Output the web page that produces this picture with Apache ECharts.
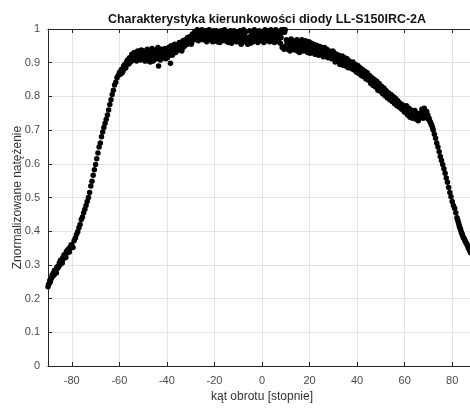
<!DOCTYPE html>
<html>
<head>
<meta charset="utf-8">
<title>Charakterystyka kierunkowości diody LL-S150IRC-2A</title>
<script src="https://cdn.jsdelivr.net/npm/echarts@6/dist/echarts.min.js"></script>
<style>
  html, body { margin: 0; padding: 0; background: #fff; }
  #chart { width: 470px; height: 408px; }
</style>
</head>
<body>
<div id="chart"></div>
<script>
// Rotation angles [deg], first pass
const angles = [
  -90, -89.5, -89, -88.5, -88, -87.5, -87, -86.5, -86, -85.5, -85, -84.5, -84, -83.5, -83, -82.5, -82, -81.5, -81, -80.5,
  -80, -79.5, -79, -78.5, -78, -77.5, -77, -76.5, -76, -75.5, -75, -74.5, -74, -73.5, -73, -72.5, -72, -71.5, -71, -70.5,
  -70, -69.5, -69, -68.5, -68, -67.5, -67, -66.5, -66, -65.5, -65, -64.5, -64, -63.5, -63, -62.5, -62, -61.5, -61, -60.5,
  -60, -59.5, -59, -58.5, -58, -57.5, -57, -56.5, -56, -55.5, -55, -54.5, -54, -53.5, -53, -52.5, -52, -51.5, -51, -50.5,
  -50, -49.5, -49, -48.5, -48, -47.5, -47, -46.5, -46, -45.5, -45, -44.5, -44, -43.5, -43, -42.5, -42, -41.5, -41, -40.5,
  -40, -39.5, -39, -38.5, -38, -37.5, -37, -36.5, -36, -35.5, -35, -34.5, -34, -33.5, -33, -32.5, -32, -31.5, -31, -30.5,
  -30, -29.5, -29, -28.5, -28, -27.5, -27, -26.5, -26, -25.5, -25, -24.5, -24, -23.5, -23, -22.5, -22, -21.5, -21, -20.5,
  -20, -19.5, -19, -18.5, -18, -17.5, -17, -16.5, -16, -15.5, -15, -14.5, -14, -13.5, -13, -12.5, -12, -11.5, -11, -10.5,
  -10, -9.5, -9, -8.5, -8, -7.5, -7, -6.5, -6, -5.5, -5, -4.5, -4, -3.5, -3, -2.5, -2, -1.5, -1, -0.5,
  0, 0.5, 1, 1.5, 2, 2.5, 3, 3.5, 4, 4.5, 5, 5.5, 6, 6.5, 7, 7.5, 8, 8.5, 9, 9.5,
  10, 10.5, 11, 11.5, 12, 12.5, 13, 13.5, 14, 14.5, 15, 15.5, 16, 16.5, 17, 17.5, 18, 18.5, 19, 19.5,
  20, 20.5, 21, 21.5, 22, 22.5, 23, 23.5, 24, 24.5, 25, 25.5, 26, 26.5, 27, 27.5, 28, 28.5, 29, 29.5,
  30, 30.5, 31, 31.5, 32, 32.5, 33, 33.5, 34, 34.5, 35, 35.5, 36, 36.5, 37, 37.5, 38, 38.5, 39, 39.5,
  40, 40.5, 41, 41.5, 42, 42.5, 43, 43.5, 44, 44.5, 45, 45.5, 46, 46.5, 47, 47.5, 48, 48.5, 49, 49.5,
  50, 50.5, 51, 51.5, 52, 52.5, 53, 53.5, 54, 54.5, 55, 55.5, 56, 56.5, 57, 57.5, 58, 58.5, 59, 59.5,
  60, 60.5, 61, 61.5, 62, 62.5, 63, 63.5, 64, 64.5, 65, 65.5, 66, 66.5, 67, 67.5, 68, 68.5, 69, 69.5,
  70, 70.5, 71, 71.5, 72, 72.5, 73, 73.5, 74, 74.5, 75, 75.5, 76, 76.5, 77, 77.5, 78, 78.5, 79, 79.5,
  80, 80.5, 81, 81.5, 82, 82.5, 83, 83.5, 84, 84.5, 85, 85.5, 86, 86.5, 87, 87.5
];

// Normalized intensity, first pass
const intensity = [
  0.235, 0.245, 0.250, 0.262, 0.266, 0.270, 0.280, 0.276, 0.290, 0.297, 0.300, 0.310, 0.306, 0.318, 0.327, 0.322, 0.335, 0.340, 0.338, 0.350,
  0.358, 0.352, 0.372, 0.380, 0.390, 0.398, 0.410, 0.420, 0.435, 0.442, 0.455, 0.465, 0.476, 0.488, 0.500, 0.515, 0.534, 0.548, 0.566, 0.582,
  0.598, 0.615, 0.632, 0.650, 0.662, 0.680, 0.694, 0.708, 0.720, 0.732, 0.745, 0.760, 0.776, 0.790, 0.806, 0.818, 0.834, 0.842, 0.855, 0.862,
  0.870, 0.866, 0.880, 0.875, 0.892, 0.884, 0.900, 0.908, 0.896, 0.912, 0.905, 0.922, 0.910, 0.918, 0.928, 0.912, 0.922, 0.916, 0.930, 0.912,
  0.925, 0.910, 0.918, 0.906, 0.922, 0.912, 0.902, 0.920, 0.914, 0.928, 0.918, 0.932, 0.925, 0.890, 0.936, 0.930, 0.918, 0.934, 0.924, 0.912,
  0.930, 0.920, 0.940, 0.898, 0.935, 0.926, 0.945, 0.932, 0.940, 0.950, 0.938, 0.948, 0.955, 0.942, 0.958, 0.950, 0.962, 0.955, 0.968, 0.960,
  0.972, 0.962, 0.978, 0.970, 0.985, 0.975, 0.992, 0.980, 0.995, 0.985, 0.975, 0.990, 0.982, 0.970, 0.988, 0.978, 0.995, 0.972, 0.985, 0.975,
  0.990, 0.968, 0.980, 0.986, 0.972, 0.982, 0.976, 0.990, 0.978, 0.968, 0.984, 0.975, 0.960, 0.980, 0.972, 0.988, 0.976, 0.966, 0.982, 0.975,
  0.970, 0.985, 0.978, 0.962, 0.975, 0.984, 0.970, 0.960, 0.955, 0.968, 0.978, 0.965, 0.982, 0.975, 0.988, 0.970, 0.980, 0.985, 0.972, 0.990,
  0.978, 0.968, 0.985, 0.975, 0.990, 0.980, 0.970, 0.985, 0.992, 0.975, 0.982, 0.970, 0.988, 0.978, 0.962, 0.985, 0.975, 0.945, 0.998, 0.990,
  0.950, 0.962, 0.942, 0.958, 0.950, 0.962, 0.945, 0.955, 0.960, 0.948, 0.935, 0.952, 0.958, 0.940, 0.950, 0.962, 0.945, 0.935, 0.955, 0.945,
  0.950, 0.938, 0.945, 0.930, 0.948, 0.940, 0.935, 0.945, 0.925, 0.940, 0.935, 0.928, 0.938, 0.930, 0.922, 0.932, 0.925, 0.918, 0.930, 0.920,
  0.915, 0.925, 0.910, 0.918, 0.905, 0.920, 0.900, 0.910, 0.915, 0.900, 0.908, 0.895, 0.905, 0.898, 0.890, 0.900, 0.888, 0.895, 0.885, 0.885,
  0.880, 0.888, 0.872, 0.878, 0.868, 0.874, 0.862, 0.868, 0.855, 0.862, 0.850, 0.845, 0.852, 0.840, 0.845, 0.835, 0.840, 0.828, 0.832, 0.822,
  0.826, 0.815, 0.820, 0.810, 0.818, 0.806, 0.810, 0.800, 0.806, 0.795, 0.800, 0.788, 0.795, 0.782, 0.788, 0.775, 0.780, 0.770, 0.775, 0.765,
  0.760, 0.768, 0.752, 0.758, 0.748, 0.755, 0.745, 0.752, 0.740, 0.748, 0.738, 0.745, 0.735, 0.750, 0.742, 0.755, 0.745, 0.750, 0.740, 0.735,
  0.732, 0.728, 0.720, 0.712, 0.700, 0.688, 0.676, 0.662, 0.650, 0.636, 0.622, 0.610, 0.598, 0.585, 0.572, 0.558, 0.545, 0.530, 0.515, 0.502,
  0.488, 0.476, 0.468, 0.455, 0.440, 0.428, 0.415, 0.405, 0.394, 0.385, 0.378, 0.370, 0.364, 0.356, 0.348, 0.340
];

// Rotation angles [deg], second pass (half-step offset)
const anglesB = [
  -89.75, -89.25, -88.75, -88.25, -87.75, -87.25, -86.75, -86.25, -85.75, -85.25, -84.75, -84.25, -83.75, -83.25, -82.75, -82.25, -81.75, -81.25, -80.75, -80.25,
  -59.75, -59.25, -58.75, -58.25, -57.75, -57.25, -56.75, -56.25, -55.75, -55.25, -54.75, -54.25, -53.75, -53.25, -52.75, -52.25, -51.75, -51.25, -50.75, -50.25,
  -49.75, -49.25, -48.75, -48.25, -47.75, -47.25, -46.75, -46.25, -45.75, -45.25, -44.75, -44.25, -43.75, -43.25, -42.75, -42.25, -41.75, -41.25, -40.75, -40.25,
  -39.75, -39.25, -38.75, -38.25, -37.75, -37.25, -36.75, -36.25, -35.75, -35.25, -34.75, -34.25, -33.75, -33.25, -32.75, -32.25, -31.75, -31.25, -30.75, -30.25,
  -29.75, -29.25, -28.75, -28.25, -27.75, -27.25, -26.75, -26.25, -25.75, -25.25, -24.75, -24.25, -23.75, -23.25, -22.75, -22.25, -21.75, -21.25, -20.75, -20.25,
  -19.75, -19.25, -18.75, -18.25, -17.75, -17.25, -16.75, -16.25, -15.75, -15.25, -14.75, -14.25, -13.75, -13.25, -12.75, -12.25, -11.75, -11.25, -10.75, -10.25,
  -9.75, -9.25, -8.75, -8.25, -7.75, -7.25, -6.75, -6.25, -5.75, -5.25, -4.75, -4.25, -3.75, -3.25, -2.75, -2.25, -1.75, -1.25, -0.75, -0.25,
  0.25, 0.75, 1.25, 1.75, 2.25, 2.75, 3.25, 3.75, 4.25, 4.75, 5.25, 5.75, 6.25, 6.75, 7.25, 7.75, 8.25, 8.75, 9.25, 9.75,
  10.25, 10.75, 11.25, 11.75, 12.25, 12.75, 13.25, 13.75, 14.25, 14.75, 15.25, 15.75, 16.25, 16.75, 17.25, 17.75, 18.25, 18.75, 19.25, 19.75,
  20.25, 20.75, 21.25, 21.75, 22.25, 22.75, 23.25, 23.75, 24.25, 24.75, 25.25, 25.75, 26.25, 26.75, 27.25, 27.75, 28.25, 28.75, 29.25, 29.75,
  30.25, 30.75, 31.25, 31.75, 32.25, 32.75, 33.25, 33.75, 34.25, 34.75, 35.25, 35.75, 36.25, 36.75, 37.25, 37.75, 38.25, 38.75, 39.25, 39.75,
  40.25, 40.75, 41.25, 41.75, 42.25, 42.75, 43.25, 43.75, 44.25, 44.75, 45.25, 45.75, 46.25, 46.75, 47.25, 47.75, 48.25, 48.75, 49.25, 49.75,
  50.25, 50.75, 51.25, 51.75, 52.25, 52.75, 53.25, 53.75, 54.25, 54.75, 55.25, 55.75, 56.25, 56.75, 57.25, 57.75, 58.25, 58.75, 59.25, 59.75,
  60.25, 60.75, 61.25, 61.75, 62.25, 62.75, 63.25, 63.75, 64.25, 64.75, 65.25, 65.75, 66.25, 66.75, 67.25, 67.75, 68.25, 68.75, 69.25, 69.75,
  70.25, 70.75, 71.25, 71.75,
  82.25, 82.75, 83.25, 83.75, 84.25, 84.75, 85.25, 85.75, 86.25, 86.75, 87.25, 87.75
];

// Normalized intensity, second pass
const intensityB = [
  0.242, 0.254, 0.258, 0.270, 0.276, 0.284, 0.282, 0.294, 0.292, 0.306, 0.314, 0.312, 0.322, 0.330, 0.326, 0.340, 0.344, 0.348, 0.352, 0.360,
  0.872, 0.878, 0.870, 0.888, 0.895, 0.885, 0.905, 0.898, 0.915, 0.902, 0.925, 0.908, 0.930, 0.920, 0.905, 0.935, 0.918, 0.908, 0.938, 0.920,
  0.935, 0.905, 0.928, 0.940, 0.915, 0.932, 0.910, 0.942, 0.905, 0.925, 0.938, 0.912, 0.945, 0.920, 0.908, 0.940, 0.928, 0.915, 0.942, 0.930,
  0.915, 0.945, 0.928, 0.950, 0.922, 0.940, 0.955, 0.930, 0.952, 0.940, 0.960, 0.945, 0.935, 0.965, 0.948, 0.968, 0.955, 0.975, 0.962, 0.978,
  0.955, 0.985, 0.968, 0.992, 0.978, 0.998, 0.965, 0.990, 0.972, 0.998, 0.968, 0.985, 0.995, 0.962, 0.980, 0.998, 0.968, 0.990, 0.962, 0.995,
  0.975, 0.995, 0.962, 0.990, 0.960, 0.995, 0.965, 0.975, 0.998, 0.985, 0.962, 0.990, 0.978, 0.995, 0.958, 0.968, 0.995, 0.985, 0.962, 0.990,
  0.962, 0.995, 0.955, 0.988, 0.998, 0.965, 0.992, 0.975, 0.968, 0.995, 0.958, 0.990, 0.962, 0.998, 0.965, 0.992, 0.960, 0.995, 0.990, 0.965,
  0.992, 0.960, 0.998, 0.965, 0.975, 0.995, 0.962, 0.998, 0.968, 0.990, 0.960, 0.998, 0.965, 0.993, 0.985, 0.958, 0.998, 0.990, 0.940, 0.998,
  0.968, 0.940, 0.965, 0.935, 0.970, 0.940, 0.965, 0.938, 0.945, 0.968, 0.958, 0.930, 0.945, 0.968, 0.935, 0.940, 0.965, 0.955, 0.930, 0.962,
  0.928, 0.958, 0.935, 0.955, 0.925, 0.952, 0.950, 0.922, 0.948, 0.928, 0.945, 0.918, 0.945, 0.920, 0.940, 0.915, 0.935, 0.930, 0.912, 0.935,
  0.930, 0.902, 0.925, 0.905, 0.922, 0.895, 0.918, 0.920, 0.892, 0.915, 0.890, 0.912, 0.885, 0.905, 0.900, 0.882, 0.902, 0.878, 0.895, 0.872,
  0.892, 0.868, 0.885, 0.862, 0.880, 0.858, 0.875, 0.852, 0.870, 0.848, 0.862, 0.838, 0.855, 0.832, 0.850, 0.828, 0.845, 0.818, 0.838, 0.815,
  0.830, 0.808, 0.825, 0.802, 0.815, 0.795, 0.810, 0.790, 0.805, 0.785, 0.798, 0.778, 0.792, 0.772, 0.785, 0.768, 0.778, 0.762, 0.770, 0.755,
  0.752, 0.772, 0.745, 0.765, 0.738, 0.760, 0.735, 0.742, 0.758, 0.732, 0.750, 0.728, 0.745, 0.738, 0.762, 0.735, 0.765, 0.740, 0.755, 0.745,
  0.735, 0.724, 0.716, 0.706,
  0.435, 0.422, 0.410, 0.398, 0.390, 0.380, 0.374, 0.366, 0.360, 0.350, 0.345, 0.336
];

// Tick positions on the angle axis
const xTicks = [-80, -60, -40, -20, 0, 20, 40, 60, 80];

const titleText = 'Charakterystyka kierunkowości diody LL-S150IRC-2A';
const xName = 'kąt obrotu [stopnie]';
const yName = 'Znormalizowane natężenie';

const points = angles.map((a, i) => [a, intensity[i]])
  .concat(anglesB.map((a, i) => [a, intensityB[i]]));

const chart = echarts.init(document.getElementById('chart'), null, { renderer: 'canvas' });

const axisColor = '#262626';
const labelColor = '#4a4a4a';
const gridColor = '#e3e3e3';
const fontFamily = '"Liberation Sans", Arial, Helvetica, sans-serif';

chart.setOption({
  animation: false,
  backgroundColor: '#ffffff',
  title: {
    text: titleText,
    left: 262,
    top: 8,
    textAlign: 'center',
    textStyle: { fontFamily, fontSize: 12.5, fontWeight: 'bold', color: '#111' }
  },
  grid: {
    left: 48, right: -6, top: 29, bottom: 42,
    outerBoundsMode: 'none',
    containLabel: false
  },
  xAxis: [{
    type: 'value',
    min: -90, max: 90,
    position: 'bottom',
    name: xName,
    nameLocation: 'middle',
    nameGap: 25,
    nameMoveOverlap: false,
    nameTextStyle: { fontFamily, fontSize: 12, color: '#333' },
    axisLine: { show: true, onZero: false, lineStyle: { color: axisColor, width: 1 } },
    axisTick: { show: true, inside: true, length: 4, customValues: xTicks, lineStyle: { color: axisColor } },
    axisLabel: { customValues: xTicks, fontFamily, fontSize: 11, color: labelColor, margin: 9 },
    splitLine: { show: true, lineStyle: { color: gridColor, width: 1 } }
  }, {
    type: 'value',
    min: -90, max: 90,
    position: 'top',
    axisLine: { show: true, onZero: false, lineStyle: { color: axisColor, width: 1 } },
    axisTick: { show: true, inside: true, length: 4, customValues: xTicks, lineStyle: { color: axisColor } },
    axisLabel: { show: false },
    splitLine: { show: false }
  }],
  yAxis: {
    type: 'value',
    min: 0, max: 1, interval: 0.1,
    position: 'left',
    name: yName,
    nameLocation: 'middle',
    nameGap: 24,
    nameMoveOverlap: false,
    nameTextStyle: { fontFamily, fontSize: 12, color: '#333' },
    axisLine: { show: true, onZero: false, lineStyle: { color: axisColor, width: 1 } },
    axisTick: { show: true, inside: true, length: 4, lineStyle: { color: axisColor } },
    axisLabel: { fontFamily, fontSize: 11, color: labelColor, margin: 8 },
    splitLine: { show: true, lineStyle: { color: gridColor, width: 1 } }
  },
  series: [{
    type: 'scatter',
    xAxisIndex: 0,
    data: points,
    symbol: 'circle',
    symbolSize: 5.5,
    itemStyle: { color: '#000', opacity: 1 },
    silent: true
  }]
});
</script>
</body>
</html>
